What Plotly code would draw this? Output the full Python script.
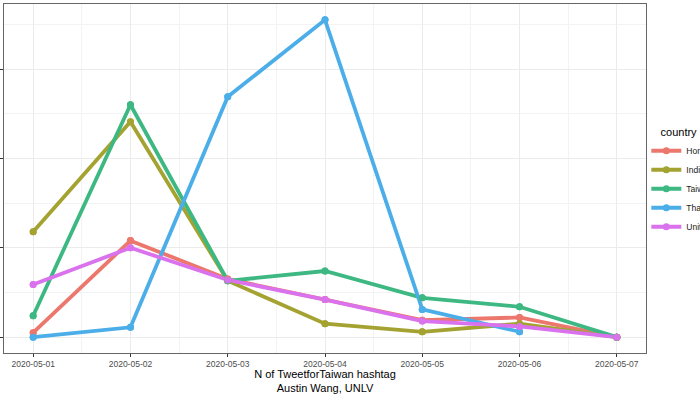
import plotly.graph_objects as go
import pandas as pd

dates = ["2020-05-01", "2020-05-02", "2020-05-03", "2020-05-04",
         "2020-05-05", "2020-05-06", "2020-05-07"]
hong_kong = [5, 108, 65, 42, 19, 22, 0]
india = [118, 241, 63, 15, 6, 15, 0]
taiwan = [24, 260, 63, 74, 44, 34, 0]
thailand = [0, 11, 269, 355, 31, 6]
united_states = [59, 100, 64, 42, 18, 12, 0]

countries = ["Hong Kong", "India", "Taiwan", "Thailand", "United States"]
series = [hong_kong, india, taiwan, thailand, united_states]
colors = ["#EC776D", "#A4A331", "#3DB882", "#4BAEE8", "#DA72EE"]

fig = go.Figure()
for name, vals, col in zip(countries, series, colors):
    fig.add_trace(go.Scatter(
        x=dates[:len(vals)], y=vals, name=name, mode="lines+markers",
        line=dict(color=col, width=3.8), marker=dict(color=col, size=7),
        showlegend=True))
for name, vals, col in zip(countries, series, colors):
    fig.add_trace(go.Scatter(
        x=dates[:len(vals)], y=vals, name=name, mode="markers",
        marker=dict(color=col, size=7), showlegend=False))

d = pd.to_datetime(dates)
span = d.max() - d.min()
xr = [d.min() - span * 0.05, d.max() + span * 0.05]
allv = [v for s in series for v in s]
ymin, ymax = min(allv), max(allv)
ypad = (ymax - ymin) * 0.05
yr = [ymin - ypad, ymax + ypad]

grid = "#EBEBEB"
fig.update_layout(
    width=700, height=394,
    margin=dict(l=4, r=54, t=4, b=41, autoexpand=False),
    paper_bgcolor="white", plot_bgcolor="white",
    font=dict(family="Liberation Sans, Arial, sans-serif", color="#4D4D4D"),
    xaxis=dict(
        type="date", range=xr, tickvals=dates, ticktext=dates,
        tickfont=dict(size=8.5, color="#4D4D4D"),
        ticks="outside", ticklen=3, tickcolor="#333333",
        showgrid=True, gridcolor=grid, gridwidth=1,
        minor=dict(dtick=43200000, tick0="2020-05-01 12:00", showgrid=True,
                   gridcolor="#F3F3F3", gridwidth=1),
        showline=True, linecolor="#666666", linewidth=1, mirror=True,
        zeroline=False,
        title=dict(text="N of TweetforTaiwan hashtag<br>Austin Wang, UNLV",
                   font=dict(size=11, color="black"), standoff=4),
    ),
    yaxis=dict(
        range=yr, tick0=0, dtick=100, showticklabels=False,
        ticks="outside", ticklen=3, tickcolor="#333333",
        showgrid=True, gridcolor=grid, gridwidth=1,
        minor=dict(dtick=50, tick0=0, showgrid=True, gridcolor="#F3F3F3", gridwidth=1),
        showline=True, linecolor="#666666", linewidth=1, mirror=True,
        zeroline=False,
    ),
    legend=dict(
        x=1.0005, xanchor="left", y=0.662, yanchor="top",
        title=dict(text="\u00a0\u00a0\u00a0\u00a0country", font=dict(size=11, color="black")),
        font=dict(size=8.5, color="#1A1A1A"),
        tracegroupgap=0,
        bgcolor="rgba(0,0,0,0)",
    ),
)

fig.write_html("out.html", config={"displayModeBar": False},
               post_script="document.body.style.margin='0px';")
